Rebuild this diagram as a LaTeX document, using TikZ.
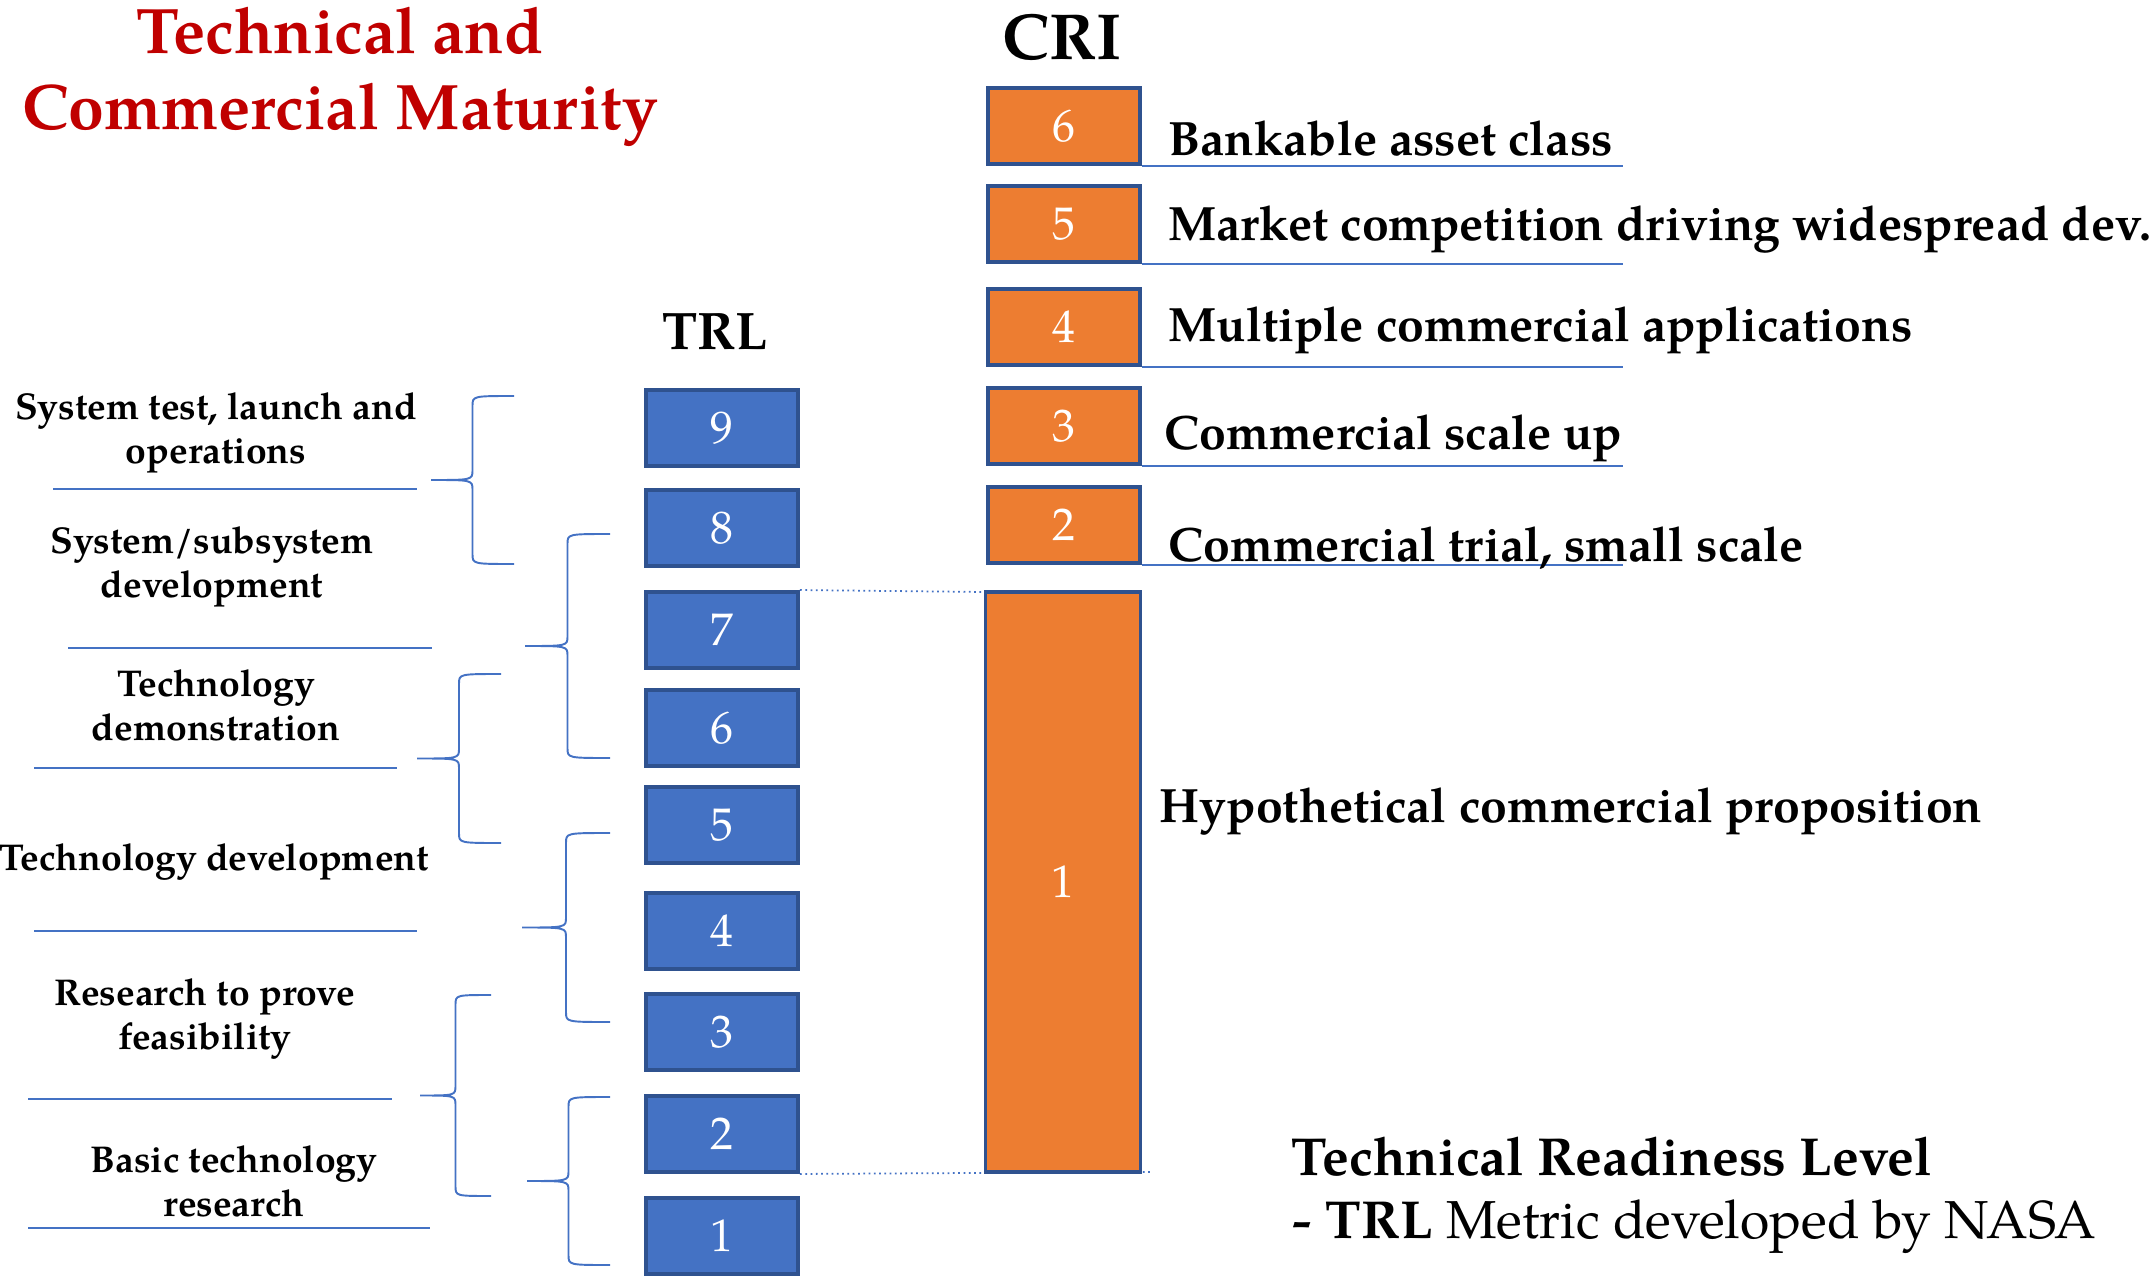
\documentclass[tikz,border=0pt]{standalone}
\usepackage{fontspec}
\setmainfont{texgyrepagella}[Extension=.otf,UprightFont=*-regular,BoldFont=*-bold,ItalicFont=*-italic,BoldItalicFont=*-bolditalic]
\definecolor{trlblue}{HTML}{4472C4}
\definecolor{edgeblue}{HTML}{2F528F}
\definecolor{criorange}{HTML}{ED7D31}
\definecolor{titlered}{HTML}{C00000}

\begin{document}
\begin{tikzpicture}
[x=0.01cm,y=-0.01cm,%
  trlbox/.style={draw=edgeblue,line width=1.1pt,fill=trlblue,text=white,minimum width=1.52cm,minimum height=0.76cm,inner sep=0pt,font=\fontsize{13}{15}\selectfont},%
  cribox/.style={trlbox,fill=criorange},%
  head/.style={inner sep=0pt,font=\fontsize{18.5}{21.8}\selectfont\bfseries},%
  crilbl/.style={anchor=base west,inner sep=0pt,font=\fontsize{13.7}{16}\selectfont\bfseries},%
  sidelbl/.style={anchor=base,align=center,inner sep=0pt,font=\fontsize{10.6}{12.5}\selectfont\bfseries},%
  rule/.style={trlblue,line width=0.7pt},%
  grp/.style={trlblue,line width=0.55pt},%
  link/.style={trlblue,densely dotted,line width=0.5pt}]
\useasboundingbox (0,0) rectangle (2151,1282);

% headings
\node[head,text=titlered,align=center,anchor=base,font=\fontsize{18.3}{21.8}\selectfont\bfseries] (title) at (340,130) {Technical and\\Commercial Maturity};
\node[head,anchor=base] (crihead) at (1062,60) {CRI};
\node[head,anchor=base,font=\fontsize{15}{17}\selectfont\bfseries] (trlhead) at (715,349) {TRL};

% TRL column
\foreach \n/\y in {9/428,8/528,7/630,6/728,5/825,4/931,3/1032,2/1134,1/1236}
  \node[trlbox] (t\n) at (722,\y) {\n};

% CRI column
\draw[link] (t7.north east) -- (985,592);
\coordinate (linkend) at (1150,1172);
\draw[link] (t2.south east) -- (linkend);
\foreach \n/\y in {6/126,5/224,4/327,3/426,2/525}
  \node[cribox] (c\n) at (1064,\y) {\n};
\node[cribox,minimum width=1.55cm,minimum height=5.8cm] (c1) at (1063,882) {1};
\foreach \n in {6,...,2}
  \draw[rule] (c\n.south east) -- ++(481,0);

\node[crilbl] (l6) at (1168,156) {Bankable asset class};
\node[crilbl] (l5) at (1168,241) {Market competition driving widespread dev.};
\node[crilbl] (l4) at (1168,341) {Multiple commercial applications};
\node[crilbl] (l3) at (1164,449) {Commercial scale up};
\node[crilbl] (l2) at (1168,561) {Commercial trial, small scale};
\node[crilbl] (l1) at (1159,822) {Hypothetical commercial proposition};

% stage names
\node[sidelbl] (s9) at (216,463) {System test, launch and\\operations};
\node[sidelbl] (s8) at (212,597) {System/subsystem\\development};
\node[sidelbl] (s6) at (216,740) {Technology\\demonstration};
\node[sidelbl] (s4) at (214,870) {Technology development};
\node[sidelbl] (s3) at (205,1049) {Research to prove\\feasibility};
\node[sidelbl] (s1) at (234,1216) {Basic technology\\research};
\draw[rule] (53,489) -- (417,489);
\draw[rule] (68,648) -- (432,648);
\draw[rule] (34,768) -- (397,768);
\draw[rule] (34,931) -- (417,931);
\draw[rule] (28,1099) -- (392,1099);
\draw[rule] (28,1228) -- (430,1228);

% braces: arm x / top / bottom / depth
\foreach \a/\t/\b/\w in {514/396/564/83,610/534/758/85,501/674/843/84,610/833/1022/88,491/995/1196/71,610/1097/1265/83}
  \draw[grp] (\a,\t) .. controls ({\a-\w/2},\t) .. ({\a-\w/2},{\t+10})
    -- ({\a-\w/2},{(\t+\b)/2-10}) .. controls ({\a-\w/2},{(\t+\b)/2}) .. ({\a-\w},{(\t+\b)/2})
    .. controls ({\a-\w/2},{(\t+\b)/2}) .. ({\a-\w/2},{(\t+\b)/2+10})
    -- ({\a-\w/2},{\b-10}) .. controls ({\a-\w/2},\b) .. (\a,\b);

% note
\node[anchor=base west,inner sep=0pt,font=\fontsize{15.2}{18}\selectfont\bfseries] (trlname) at (1291,1175) {Technical Readiness Level};
\node[anchor=base west,inner sep=0pt,font=\fontsize{15.2}{18}\selectfont] (trlnote) at (1291,1238) {\textbf{\textit{-} TRL} Metric developed by NASA};
\end{tikzpicture}
\end{document}
